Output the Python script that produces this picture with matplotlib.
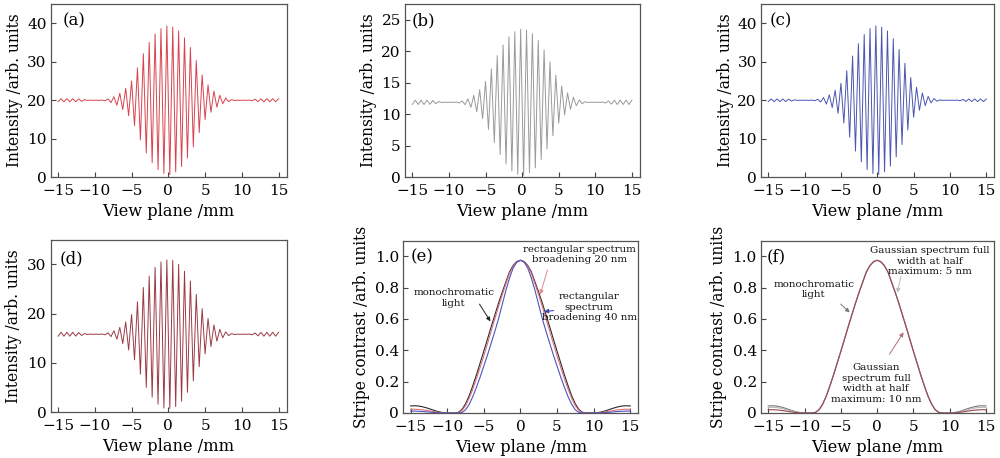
import numpy as np
import matplotlib
matplotlib.use("Agg")
import matplotlib.pyplot as plt

plt.rcParams['font.family'] = ['DejaVu Serif']

# extremum positions of the fringes (mm), one every half fringe
fringe_x = np.arange(-15.0, 15.01, 0.4)

# fringe maxima / minima (a)-(d)
fringe_a = [19.6, 20.4, 19.6, 20.4, 19.6, 20.4, 19.62, 20.35, 19.72, 20.15, 19.95, 20.03, 19.97, 20.03, 19.97, 20.05, 19.85, 20.35, 19.4, 20.9,
            18.7, 21.8, 17.6, 23.1, 16.0, 25.0, 13.4, 28.4, 9.7, 32.1, 6.3, 35.0, 3.8, 37.2, 2.0, 38.6, 1.0, 39.3,
            0.7, 39.0, 1.4, 38.0, 2.8, 36.2, 5.0, 33.7, 7.9, 30.3, 11.6, 26.6, 15.0, 24.0, 16.9, 22.4, 18.2, 21.3, 19.1, 20.6,
            19.65, 20.15, 19.95, 20.03, 19.97, 20.03, 19.97, 20.05, 19.85, 20.28, 19.65, 20.38, 19.6, 20.4, 19.6, 20.4, 19.6, 20.4]
fringe_b = [11.55, 12.25, 11.55, 12.25, 11.55, 12.25, 11.57, 12.2, 11.68, 12.02, 11.86, 11.92, 11.88, 11.92, 11.88, 11.94, 11.8, 12.12, 11.52, 12.45,
            11.1, 13.0, 10.4, 13.9, 9.3, 15.2, 7.6, 17.2, 5.5, 19.3, 3.6, 21.0, 2.1, 22.3, 1.0, 23.1, 0.45, 23.5,
            0.3, 23.35, 0.7, 22.8, 1.5, 21.7, 2.8, 20.2, 4.5, 18.3, 6.6, 16.2, 8.6, 14.5, 9.9, 13.4, 10.8, 12.7, 11.35, 12.28,
            11.68, 12.0, 11.86, 11.92, 11.88, 11.92, 11.88, 11.94, 11.78, 12.12, 11.6, 12.23, 11.55, 12.25, 11.55, 12.25, 11.55, 12.25]
fringe_c = [19.65, 20.35, 19.65, 20.35, 19.65, 20.35, 19.67, 20.3, 19.78, 20.12, 19.96, 20.02, 19.98, 20.02, 19.98, 20.04, 19.9, 20.25, 19.55, 20.7,
            19.0, 21.4, 18.1, 22.6, 16.6, 24.4, 14.1, 27.7, 10.4, 31.5, 6.8, 34.7, 4.0, 37.1, 2.0, 38.6, 1.0, 39.3,
            0.7, 39.0, 1.4, 38.0, 2.9, 36.0, 5.3, 33.2, 8.5, 29.6, 12.3, 25.9, 15.6, 23.4, 17.4, 21.9, 18.6, 21.0, 19.3, 20.45,
            19.75, 20.1, 19.96, 20.02, 19.98, 20.02, 19.98, 20.04, 19.88, 20.22, 19.7, 20.33, 19.65, 20.35, 19.65, 20.35, 19.65, 20.35]
fringe_d = [15.4, 16.2, 15.4, 16.2, 15.4, 16.2, 15.42, 16.13, 15.55, 15.92, 15.76, 15.82, 15.78, 15.82, 15.78, 15.84, 15.68, 16.08, 15.32, 16.52,
            14.8, 17.2, 13.9, 18.3, 12.6, 19.8, 10.6, 22.4, 7.7, 25.3, 5.0, 27.6, 3.0, 29.4, 1.6, 30.5, 0.8, 30.9,
            0.7, 30.8, 1.1, 30.0, 2.2, 28.6, 4.0, 26.6, 6.3, 23.9, 9.2, 21.0, 11.8, 19.0, 13.3, 17.7, 14.4, 16.8, 15.08, 16.28,
            15.52, 15.92, 15.76, 15.82, 15.78, 15.82, 15.78, 15.84, 15.68, 16.05, 15.47, 16.18, 15.4, 16.2, 15.4, 16.2, 15.4, 16.2]

# stripe contrast curves, panels (e) and (f)
contrast_x = np.arange(-15.0, 15.01, 0.5)
e_mono = [0.045, 0.046, 0.045, 0.041, 0.035, 0.028, 0.02, 0.012, 0.006, 0.002, 0.0, 0.0, 0.0, 0.004, 0.022,
          0.058, 0.11, 0.175, 0.245, 0.32, 0.395, 0.472, 0.55, 0.625, 0.7, 0.77, 0.835, 0.9, 0.942, 0.967,
          0.975,
          0.967, 0.942, 0.9, 0.835, 0.77, 0.7, 0.625, 0.55, 0.472, 0.395, 0.32, 0.245, 0.175, 0.11, 0.058,
          0.022, 0.004, 0.0, 0.0, 0.0, 0.002, 0.006, 0.012, 0.02, 0.028, 0.035, 0.041, 0.045, 0.046, 0.045]
e_rect20 = [0.023, 0.024, 0.023, 0.021, 0.018, 0.014, 0.01, 0.006, 0.003, 0.001, 0.0, 0.0, 0.0, 0.002, 0.015,
            0.046, 0.094, 0.153, 0.22, 0.292, 0.366, 0.443, 0.522, 0.6, 0.678, 0.752, 0.822, 0.89, 0.937, 0.965,
            0.975,
            0.965, 0.937, 0.89, 0.822, 0.752, 0.678, 0.6, 0.522, 0.443, 0.366, 0.292, 0.22, 0.153, 0.094, 0.046,
            0.015, 0.002, 0.0, 0.0, 0.0, 0.001, 0.003, 0.006, 0.01, 0.014, 0.018, 0.021, 0.023, 0.024, 0.023]
e_rect40 = [0.012, 0.012, 0.011, 0.01, 0.008, 0.006, 0.004, 0.002, 0.001, 0.0, 0.0, 0.0, 0.0, 0.0, 0.003,
            0.02, 0.055, 0.105, 0.165, 0.23, 0.3, 0.37, 0.445, 0.52, 0.6, 0.69, 0.78, 0.86, 0.925, 0.962,
            0.975,
            0.962, 0.925, 0.86, 0.78, 0.69, 0.6, 0.52, 0.445, 0.37, 0.3, 0.23, 0.165, 0.105, 0.055, 0.02,
            0.003, 0.0, 0.0, 0.0, 0.0, 0.0, 0.001, 0.002, 0.004, 0.006, 0.008, 0.01, 0.011, 0.012, 0.012]
f_mono = [0.045, 0.046, 0.045, 0.041, 0.035, 0.028, 0.02, 0.012, 0.006, 0.002, 0.0, 0.0, 0.0, 0.004, 0.022,
          0.058, 0.11, 0.175, 0.245, 0.32, 0.395, 0.472, 0.55, 0.625, 0.7, 0.77, 0.835, 0.9, 0.942, 0.967,
          0.975,
          0.967, 0.942, 0.9, 0.835, 0.77, 0.7, 0.625, 0.55, 0.472, 0.395, 0.32, 0.245, 0.175, 0.11, 0.058,
          0.022, 0.004, 0.0, 0.0, 0.0, 0.002, 0.006, 0.012, 0.02, 0.028, 0.035, 0.041, 0.045, 0.046, 0.045]
f_gauss5 = [0.035, 0.036, 0.035, 0.032, 0.027, 0.021, 0.015, 0.009, 0.004, 0.001, 0.0, 0.0, 0.0, 0.003, 0.021,
            0.057, 0.109, 0.174, 0.244, 0.319, 0.394, 0.471, 0.549, 0.624, 0.699, 0.769, 0.834, 0.899, 0.941, 0.966,
            0.975,
            0.966, 0.941, 0.899, 0.834, 0.769, 0.699, 0.624, 0.549, 0.471, 0.394, 0.319, 0.244, 0.174, 0.109, 0.057,
            0.021, 0.003, 0.0, 0.0, 0.0, 0.001, 0.004, 0.009, 0.015, 0.021, 0.027, 0.032, 0.035, 0.036, 0.035]
f_gauss10 = [0.02, 0.021, 0.02, 0.018, 0.015, 0.012, 0.008, 0.005, 0.002, 0.0, 0.0, 0.0, 0.0, 0.003, 0.02,
             0.056, 0.108, 0.173, 0.243, 0.318, 0.393, 0.47, 0.548, 0.623, 0.698, 0.768, 0.833, 0.898, 0.94, 0.965,
             0.975,
             0.965, 0.94, 0.898, 0.833, 0.768, 0.698, 0.623, 0.548, 0.47, 0.393, 0.318, 0.243, 0.173, 0.108, 0.056,
             0.02, 0.003, 0.0, 0.0, 0.0, 0.0, 0.002, 0.005, 0.008, 0.012, 0.015, 0.018, 0.02, 0.021, 0.02]

x_ticks = [-15, -10, -5, 0, 5, 10, 15]

fig = plt.figure(figsize=(10, 4.58), dpi=100)

boxes = {
    'a': [0.0507, 0.6129, 0.236, 0.3784],
    'b': [0.405, 0.6129, 0.235, 0.3784],
    'c': [0.761, 0.6129, 0.2333, 0.3784],
    'd': [0.0507, 0.1004, 0.236, 0.3762],
    'e': [0.4033, 0.0983, 0.235, 0.3762],
    'f': [0.761, 0.0983, 0.233, 0.3762],
}


def style(ax, tag, ylabel, ylim, yticks, ylab_x, tag_xy):
    ax.set_xlim(-16, 16.1)
    ax.set_ylim(*ylim)
    ax.set_xticks(x_ticks)
    ax.set_yticks(yticks)
    ax.tick_params(direction='in', length=3.5, width=0.8, color='#444444',
                   labelsize=11, top=False, right=False)
    ax.tick_params(axis='x', pad=5)
    ax.tick_params(axis='y', pad=3)
    for s in ax.spines.values():
        s.set_color('#555555')
        s.set_linewidth(0.9)
    ax.set_xlabel('View plane /mm', fontsize=11.7)
    ax.set_ylabel(ylabel, fontsize=11.2)
    ax.xaxis.label.set_va('center')
    ax.xaxis.set_label_coords(0.5, -0.2)
    ax.yaxis.label.set_va('center')
    ax.yaxis.set_label_coords(ylab_x, 0.5)
    ax.text(tag_xy[0], tag_xy[1], '(' + tag + ')', transform=ax.transAxes,
            fontsize=12, va='center', ha='left')


fringe_panels = [
    ('a', fringe_a, '#d8434f', (0, 45), [0, 10, 20, 30, 40], -0.153, (0.05, 0.905)),
    ('b', fringe_b, '#9a9a9a', (0, 27.5), [0, 5, 10, 15, 20, 25], -0.156, (0.028, 0.905)),
    ('c', fringe_c, '#4b56b0', (0, 45), [0, 10, 20, 30, 40], -0.154, (0.039, 0.905)),
    ('d', fringe_d, '#9c3a44', (0, 35), [0, 10, 20, 30], -0.158, (0.039, 0.888)),
]
for tag, vals, col, ylim, yt, lx, txy in fringe_panels:
    ax = fig.add_axes(boxes[tag])
    ax.plot(fringe_x, vals, color=col, lw=0.7)
    style(ax, tag, 'Intensity /arb. units', ylim, yt, lx, txy)

ytick_c = [0, 0.2, 0.4, 0.6, 0.8, 1.0]
ylab_c = ['0', '0.2', '0.4', '0.6', '0.8', '1.0']
ann_kw = dict(fontsize=7.4, ha='center', va='center', linespacing=1.2, color='#111111')

# (e)
ax = fig.add_axes(boxes['e'])
ax.plot(contrast_x, e_mono, color='#2a2a2a', lw=0.8)
ax.plot(contrast_x, e_rect20, color='#e0707a', lw=0.8)
ax.plot(contrast_x, e_rect40, color='#4a55c0', lw=0.8)
style(ax, 'e', 'Stripe contrast /arb. units', (0, 1.1), ytick_c, -0.178, (0.03, 0.905))
ax.set_yticklabels(ylab_c)
ax.text(8.05, 1.01, 'rectangular spectrum\nbroadening 20 nm', **ann_kw)
ax.annotate('', xy=(2.6, 0.74), xytext=(3.8, 0.93),
            arrowprops=dict(arrowstyle='-|>', color='#e08890', lw=0.7, mutation_scale=6))
ax.text(-9.1, 0.735, 'monochromatic\nlight', **ann_kw)
ax.annotate('', xy=(-3.9, 0.57), xytext=(-5.8, 0.71),
            arrowprops=dict(arrowstyle='-|>', color='#222222', lw=0.7, mutation_scale=6))
ax.text(9.4, 0.675, 'rectangular\nspectrum\nbroadening 40 nm', **ann_kw)
ax.annotate('', xy=(2.85, 0.645), xytext=(4.9, 0.656),
            arrowprops=dict(arrowstyle='-|>', color='#3a45b0', lw=0.8, mutation_scale=6))

# (f)
ax = fig.add_axes(boxes['f'])
ax.plot(contrast_x, f_mono, color='#777777', lw=0.8)
ax.plot(contrast_x, f_gauss5, color='#b8b8b8', lw=0.8)
ax.plot(contrast_x, f_gauss10, color='#9a4650', lw=0.8)
style(ax, 'f', 'Stripe contrast /arb. units', (0, 1.1), ytick_c, -0.183, (0.024, 0.905))
ax.set_yticklabels(ylab_c)
ax.text(7.3, 0.97, 'Gaussian spectrum full\nwidth at half\nmaximum: 5 nm', **ann_kw)
ax.annotate('', xy=(2.7, 0.75), xytext=(3.35, 0.89),
            arrowprops=dict(arrowstyle='-|>', color='#bbbbbb', lw=0.7, mutation_scale=6))
ax.text(-8.7, 0.79, 'monochromatic\nlight', **ann_kw)
ax.annotate('', xy=(-3.5, 0.63), xytext=(-5.3, 0.707),
            arrowprops=dict(arrowstyle='-|>', color='#777777', lw=0.7, mutation_scale=6))
ax.text(-0.15, 0.188, 'Gaussian\nspectrum full\nwidth at half\nmaximum: 10 nm', **ann_kw)
ax.annotate('', xy=(3.85, 0.53), xytext=(1.5, 0.36),
            arrowprops=dict(arrowstyle='-|>', color='#b07078', lw=0.7, mutation_scale=6))

fig.savefig('out.png', dpi=100)
